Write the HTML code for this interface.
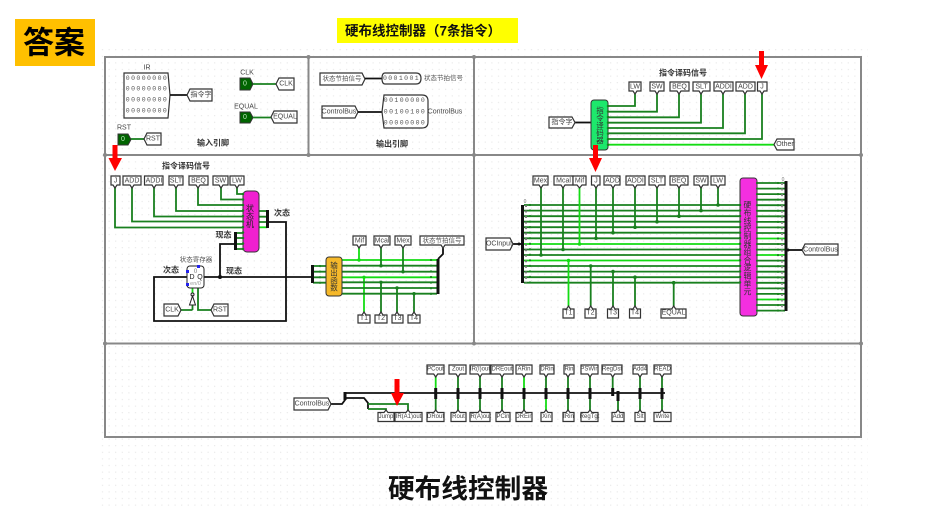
<!DOCTYPE html>
<html lang="zh"><head><meta charset="utf-8"><title>硬布线控制器</title>
<style>
html,body{margin:0;padding:0;background:#fff}
svg{display:block;filter:blur(.3px)}
text{font-family:"Liberation Sans","Noto Sans CJK SC",sans-serif;fill:#444;font-size:7px;text-anchor:middle;dominant-baseline:central}
.t polygon,polygon.t{fill:#fff;stroke:#333;stroke-width:1.200}
.w{stroke:#19801f;stroke-width:1.800;fill:none}
.l{stroke:#14dc14;stroke-width:1.800;fill:none}
.k{stroke:#111;stroke-width:1.800;fill:none}
.b{stroke:#111;stroke-width:3;fill:none}
.d{fill:#19801f}
.dl{fill:#14dc14}
.m{font-size:6.5px;font-family:"Liberation Mono",monospace;fill:#555;letter-spacing:1.4px}
.h{font-weight:bold;font-size:8px;fill:#333}
.s{fill:#555;font-size:6.5px}
.r{fill:#f00}
.x{font-size:6px}
</style></head><body>
<svg width="931" height="521" viewBox="0 0 931 521" xmlns="http://www.w3.org/2000/svg">
<defs><pattern id="g" width="6.6" height="6.6" patternUnits="userSpaceOnUse"><rect x="3" y="3" width="1" height="1" fill="#e0e0e0"/></pattern></defs>
<rect width="931" height="521" fill="#fff"/>
<rect x="100" y="48" width="768" height="462" fill="url(#g)"/>
<rect x="15" y="19" width="80" height="47" fill="#ffc000"/>
<text x="54" y="43" style="font-size:31px;font-weight:bold;fill:#000">答案</text>
<rect x="337" y="18" width="181" height="25" fill="#ffff00"/>
<text x="423" y="31" style="font-size:13.500px;font-weight:bold;fill:#111">硬布线控制器（7条指令）</text>
<text x="468" y="489" style="font-size:26.700px;font-weight:bold;fill:#111">硬布线控制器</text>

<!-- panels -->
<g stroke="#888" stroke-width="2" fill="none"><rect x="105" y="57" width="756" height="380"/><path d="M105 155H861M105 343.500H861M474 57V343.500M308.500 57V155"/></g>
<g fill="#888"><circle cx="105" cy="155" r="2"/><circle cx="308.500" cy="57" r="2"/><circle cx="308.500" cy="155" r="2"/><circle cx="474" cy="57" r="2"/><circle cx="474" cy="155" r="2"/><circle cx="861" cy="155" r="2"/><circle cx="474" cy="343.500" r="2"/><circle cx="105" cy="343.500" r="2"/><circle cx="861" cy="343.500" r="2"/></g>

<!-- input pins -->
<text x="147" y="68">IR</text>
<polygon points="124,73 168,73 170,95 168,118 124,118" fill="#fff" stroke="#333" stroke-width="1.200"/>
<text x="147" y="78.500" class="m">00000000</text><text x="147" y="89" class="m">00000000</text><text x="147" y="100" class="m">00000000</text><text x="147" y="111" class="m">00000000</text>
<path class="k" d="M170 95H187"/>
<polygon class="t" points="187,95 190,89 212,89 212,101 190,101"/><text x="201" y="95">指令字</text>
<text x="247" y="73">CLK</text><polygon points="240,78 250,78 253,84 250,90 240,90" fill="#006400" stroke="#333"/><text x="245" y="84" style="fill:#bfe8bf">0</text>
<path class="w" d="M253 84H276"/><polygon class="t" points="276,84 279,78 294,78 294,90 279,90"/><text x="286" y="84">CLK</text>
<text x="246" y="107">EQUAL</text><polygon points="240,112 250,112 253,117.500 250,123 240,123" fill="#006400" stroke="#333"/><text x="245" y="117.500" style="fill:#bfe8bf">0</text>
<path class="w" d="M253 117.500H271"/><polygon class="t" points="271,117 274,111 297,111 297,123 274,123"/><text x="285" y="117">EQUAL</text>
<text x="124" y="128">RST</text><polygon points="118,134 128,134 131,139.500 128,145 118,145" fill="#006400" stroke="#333"/><text x="123" y="139.500" style="fill:#bfe8bf">0</text>
<path class="w" d="M131 139H144"/><polygon class="t" points="144,139 147,133 161,133 161,145 147,145"/><text x="153" y="139">RST</text>
<text x="213" y="143" class="h">输入引脚</text>

<!-- output pins -->
<polygon class="t" points="320,73 362,73 365,79 362,85 320,85"/><text x="342" y="79" class="s">状态节拍信号</text>
<path class="k" d="M365 78.500H382"/><path d="M385 73H416Q421 73 421 78.500Q421 84 416 84H385Q382 84 382 78.500Q382 73 385 73Z" fill="#fff" stroke="#333" stroke-width="1.200"/>
<text x="401.500" y="78.500" class="m">0001001</text><text x="443.500" y="78.500" class="s">状态节拍信号</text>
<polygon class="t" points="322,106 355,106 358,112 355,118 322,118"/><text x="339" y="112">ControlBus</text>
<path class="k" d="M358 112H382"/><path d="M384 95H422Q428 95 428 101V122Q428 128 422 128H384L382 112Z" fill="#fff" stroke="#333" stroke-width="1.200"/>
<text x="405" y="100.500" class="m">00100000</text><text x="405" y="112" class="m">00100100</text><text x="405" y="123" class="m">00000000</text><text x="445" y="112">ControlBus</text>
<text x="392" y="144" class="h">输出引脚</text>

<!-- instruction decoder -->
<text x="683" y="73" class="h">指令译码信号</text>
<path class="w" d="M608 106H635V94M608 111.700H657V94M608 117.300H679V94M608 122.700H701V94M608 128H723V94M608 133.300H745V94M608 139H762V94"/>
<path class="l" d="M608 144.700H774"/>
<path class="k" d="M575 122.500H591"/>
<g class="t">
<polygon points="629,82 641,82 641,91 637,91 635,94 633,91 629,91"/><polygon points="650,82 664,82 664,91 659,91 657,94 655,91 650,91"/><polygon points="670,82 689,82 689,91 681,91 679,94 677,91 670,91"/><polygon points="693,82 710,82 710,91 703,91 701,94 699,91 693,91"/><polygon points="714,82 733,82 733,91 725,91 723,94 721,91 714,91"/><polygon points="736,82 755,82 755,91 747,91 745,94 743,91 736,91"/><polygon points="757.500,82 767,82 767,91 764,91 762,94 760,91 757.500,91"/>
<polygon points="549,117 572,117 575,122.500 572,128 549,128"/><polygon points="774,144.500 777,139 794,139 794,150 777,150"/>
</g>
<text x="635" y="87">LW</text><text x="657" y="87">SW</text><text x="679.500" y="87">BEQ</text><text x="701.500" y="87">SLT</text><text x="723.500" y="87">ADDI</text><text x="745.500" y="87">ADD</text><text x="762" y="87">J</text><text x="562" y="122.500">指令字</text><text x="785" y="144.500">Other</text>
<rect x="591" y="100" width="17" height="50" rx="3" fill="#1de86c" stroke="#333"/>
<text x="600" y="125" writing-mode="tb" style="fill:#333;font-size:7.500px">指令译码器</text>
<line x1="608" y1="106" x2="608" y2="145" stroke="#19801f" stroke-width="2.500" stroke-linecap="round" stroke-dasharray="0 5.530"/>

<!-- FSM -->
<text x="186" y="166" class="h">指令译码信号</text>
<path class="w" d="M237 187V194H243M221 187V199.500H243M198 187V205H243M176 187V211H243M154 187V216.500H243M132 187V221.500H243M115 187V227.500H243"/>
<path class="w" d="M236 233H243M236 238H243M236 244H243M236 249H243M259 211H267M259 216.700H267M259 222H267"/><path class="l" d="M259 227.300H267"/>
<path class="b" d="M235.500 232V250M267.500 210V228"/>
<path class="k" d="M235 244H220V277M268 222H286V321H154V277H187M204 277H311"/><circle cx="220" cy="277" r="2" fill="#111"/>
<g class="t">
<polygon points="111,176 120,176 120,185 117,185 115,188 113,185 111,185"/><polygon points="123,176 141,176 141,185 134,185 132,188 130,185 123,185"/><polygon points="144.500,176 163,176 163,185 156,185 154,188 152,185 144.500,185"/><polygon points="169,176 183,176 183,185 178,185 176,188 174,185 169,185"/><polygon points="189,176 208,176 208,185 200,185 198,188 196,185 189,185"/><polygon points="213,176 228,176 228,185 223,185 221,188 219,185 213,185"/><polygon points="230,176 244,176 244,185 239,185 237,188 235,185 230,185"/>
</g>
<text x="115.500" y="181">J</text><text x="132" y="181">ADD</text><text x="154" y="181">ADDI</text><text x="176" y="181">SLT</text><text x="198.500" y="181">BEQ</text><text x="220.500" y="181">SW</text><text x="237" y="181">LW</text>
<rect x="243" y="191" width="16" height="61" rx="4" fill="#f020d0" stroke="#333"/>
<text x="250" y="216" writing-mode="tb" style="fill:#222;font-size:8px">状态机</text>
<line x1="243" y1="194" x2="243" y2="250" stroke="#19801f" stroke-width="2.500" stroke-linecap="round" stroke-dasharray="0 5.500"/>
<text x="223.500" y="235" class="h">现态</text><text x="282" y="213" class="h">次态</text><text x="171" y="270" class="h">次态</text><text x="234" y="271" class="h">现态</text>
<text x="196" y="260" class="s">状态寄存器</text>

<!-- register -->
<path class="l" d="M192.500 288V293"/><path class="w" d="M198 288V310H211M192.500 305V310M181 310H192.500"/>
<rect x="187" y="266" width="17" height="22" rx="3" fill="#fff" stroke="#222"/>
<text x="195.500" y="272" style="font-size:6px;fill:#777">0</text><text x="192" y="277.500" style="fill:#222">D</text><text x="200" y="277.500" style="fill:#222">Q</text><text x="195.500" y="284" style="font-size:5.500px;fill:#999">en/0</text>
<g fill="#2222ee"><rect x="186" y="270" width="3" height="3"/><rect x="197" y="265" width="3" height="3"/><rect x="186" y="283" width="3" height="3"/></g>
<circle cx="192.500" cy="294.500" r="1.500" fill="#fff" stroke="#222"/><polygon points="192.500,296 189.500,305 195.500,305" fill="#fff" stroke="#222"/>
<g class="t"><polygon points="164,304 178,304 181,310 178,316 164,316"/><polygon points="211,310 214,304 228,304 228,316 214,316"/></g>
<text x="172" y="310">CLK</text><text x="220" y="310">RST</text>

<!-- output function -->
<path class="w" d="M313 266H326M313 271.700H326M313 277.300H326M313 282.700H326"/>
<path class="b" d="M312.500 265V283"/>
<path class="l" d="M342 260H437M342 277.300H437M359 248V260M364 277.300V312"/>
<path class="w" d="M342 265.700H437M342 271.700H437M342 282.300H437M342 288H437M342 293.700H437M381 248V265.700M403 248V271.700M381 282.300V312M397 288V312M414 293.700V312"/>
<path class="b" d="M438 259V294"/><path class="k" d="M438 259L443 254V248"/>
<circle cx="359" cy="260" r="1.700" class="dl"/><circle cx="364" cy="277.300" r="1.700" class="dl"/><circle cx="381" cy="265.700" r="1.700" class="d"/><circle cx="403" cy="271.700" r="1.700" class="d"/><circle cx="381" cy="282.300" r="1.700" class="d"/><circle cx="397" cy="288" r="1.700" class="d"/><circle cx="414" cy="293.700" r="1.700" class="d"/>
<line x1="431" y1="260" x2="431" y2="294" stroke="#19801f" stroke-width="2.200" stroke-linecap="round" stroke-dasharray="0 5.650"/>
<line x1="320" y1="266" x2="320" y2="283" stroke="#19801f" stroke-width="2.200" stroke-linecap="round" stroke-dasharray="0 5.600"/>
<rect x="326" y="257" width="16" height="39" rx="3" fill="#f5b82a" stroke="#333"/>
<text x="334" y="276.500" writing-mode="tb" style="fill:#333;font-size:7.500px">输出函数</text>
<g class="t">
<polygon points="353,236 366,236 366,245 361,245 359,248 357,245 353,245"/><polygon points="374,236 390,236 390,245 383,245 381,248 379,245 374,245"/><polygon points="395,236 411,236 411,245 405,245 403,248 401,245 395,245"/><polygon points="420,236 464,236 464,245 445,245 443,248 441,245 420,245"/>
<polygon points="358,315 362,315 364,312 366,315 370,315 370,323 358,323"/><polygon points="375,315 379,315 381,312 383,315 387,315 387,323 375,323"/><polygon points="392,315 395,315 397,312 399,315 403,315 403,323 392,323"/><polygon points="408,315 412,315 414,312 416,315 420,315 420,323 408,323"/>
</g>
<text x="359.500" y="241">Mif</text><text x="382" y="241">Mcal</text><text x="403" y="241">Mex</text><text x="442" y="241" class="s">状态节拍信号</text>
<text x="364" y="318.500">T1</text><text x="381" y="318.500">T2</text><text x="397.500" y="318.500">T3</text><text x="414" y="318.500">T4</text>

<!-- combinational logic -->
<path class="w" d="M524 205H740M524 210.600H740M524 216.200H740M524 221.700H740M524 227.200H740M524 232.700H740M524 238.300H740M524 249.500H740M524 255H740M524 266H740M524 271.600H740M524 277.200H740M524 282.700H740"/>
<path class="l" d="M524 244H740M524 260.500H740M579.500 187V244M568.500 260.500V306"/>
<path class="w" d="M541 187V255M563 187V249.500M596 187V238.300M613 187V232.700M635 187V227.200M657 187V221.700M679 187V216.200M701 187V210.600M718 187V205M590.700 266V306M613 271.600V306M635 277.200V306M673.700 282.700V306"/>
<path class="b" d="M522.500 205V283"/><path class="k" d="M513 244H522"/>
<g class="d"><circle cx="541" cy="255" r="1.800"/><circle cx="563" cy="249.500" r="1.800"/><circle cx="596" cy="238.300" r="1.800"/><circle cx="613" cy="232.700" r="1.800"/><circle cx="635" cy="227.200" r="1.800"/><circle cx="657" cy="221.700" r="1.800"/><circle cx="679" cy="216.200" r="1.800"/><circle cx="701" cy="210.600" r="1.800"/><circle cx="718" cy="205" r="1.800"/><circle cx="590.700" cy="266" r="1.800"/><circle cx="613" cy="271.600" r="1.800"/><circle cx="635" cy="277.200" r="1.800"/><circle cx="673.700" cy="282.700" r="1.800"/></g>
<circle cx="579.500" cy="244" r="1.800" class="dl"/><circle cx="568.500" cy="260.500" r="1.800" class="dl"/>
<line x1="530" y1="205" x2="530" y2="283" stroke="#19801f" stroke-width="2.200" stroke-linecap="round" stroke-dasharray="0 5.530"/>
<line x1="526" y1="205" x2="526" y2="283" stroke="#777" stroke-width="1.800" stroke-dasharray="2 3.530"/>
<g class="t">
<polygon points="533,176 548,176 548,185 543,185 541,188 539,185 533,185"/><polygon points="554,176 573,176 573,185 565,185 563,188 561,185 554,185"/><polygon points="573,176 586,176 586,185 582,185 579.500,188 577,185 573,185"/><polygon points="591.500,176 600,176 600,185 598,185 596,188 594,185 591.500,185"/><polygon points="604,176 620,176 620,185 615,185 613,188 611,185 604,185"/><polygon points="626,176 645,176 645,185 637,185 635,188 633,185 626,185"/><polygon points="649,176 665,176 665,185 659,185 657,188 655,185 649,185"/><polygon points="670,176 688,176 688,185 681,185 679,188 677,185 670,185"/><polygon points="694,176 708,176 708,185 703,185 701,188 699,185 694,185"/><polygon points="711,176 725,176 725,185 720,185 718,188 716,185 711,185"/>
<polygon points="486,238 510,238 513,244 510,250 486,250"/>
<polygon points="563,309 566.500,309 568.500,306 570.500,309 574,309 574,318 563,318"/><polygon points="585,309 588.700,309 590.700,306 592.700,309 596,309 596,318 585,318"/><polygon points="607.500,309 611,309 613,306 615,309 618.500,309 618.500,318 607.500,318"/><polygon points="629.500,309 633,309 635,306 637,309 640.500,309 640.500,318 629.500,318"/><polygon points="661,309 671.700,309 673.700,306 675.700,309 686,309 686,318 661,318"/>
<polygon points="802,250 805,244 838,244 838,255 805,255"/>
</g>
<text x="540.500" y="181">Mex</text><text x="563.500" y="181">Mcal</text><text x="579.500" y="181">Mif</text><text x="596" y="181">J</text><text x="612.500" y="181">ADD</text><text x="635.500" y="181">ADDI</text><text x="657" y="181">SLT</text><text x="679" y="181">BEQ</text><text x="701" y="181">SW</text><text x="718" y="181">LW</text>
<text x="499" y="244">OCInput</text><text x="568.500" y="313">T1</text><text x="590.500" y="313">T2</text><text x="613" y="313">T3</text><text x="635" y="313">T4</text><text x="673.500" y="313">EQUAL</text><text x="820.500" y="250">ControlBus</text>
<path class="w" d="M757 183H785M757 188.600H785M757 194.100H785M757 199.700H785M757 205.200H785M757 210.800H785M757 216.300H785M757 221.900H785M757 227.400H785M757 233H785M757 244H785M757 249.600H785M757 260.600H785M757 266.200H785M757 271.700H785M757 277.300H785M757 282.800H785M757 288.400H785M757 293.900H785M757 305H785M757 310.600H785"/>
<path class="l" d="M757 238.500H785M757 255H785M757 299.500H785"/>
<path class="b" d="M786 181V311"/><path class="k" d="M787 250H802"/>
<rect x="740" y="178" width="17" height="138" rx="3" fill="#f42fe0" stroke="#333"/>
<text x="747.500" y="248" writing-mode="tb" style="fill:#333;font-size:7.900px">硬布线控制器组合逻辑单元</text>
<line x1="740" y1="205" x2="740" y2="283" stroke="#19801f" stroke-width="2.500" stroke-linecap="round" stroke-dasharray="0 5.530"/>
<line x1="757" y1="183" x2="757" y2="311" stroke="#19801f" stroke-width="2.200" stroke-linecap="round" stroke-dasharray="0 5.550"/>
<line x1="778" y1="183" x2="778" y2="311" stroke="#19801f" stroke-width="2.200" stroke-linecap="round" stroke-dasharray="0 5.550"/>
<line x1="782" y1="183" x2="782" y2="311" stroke="#888" stroke-width="1.800" stroke-dasharray="2 3.550"/>
<text x="783" y="180" style="font-size:5px;fill:#777">0</text><text x="525" y="202" style="font-size:5px;fill:#777">0</text>
<circle cx="788" cy="250" r="1.500" fill="#111"/><circle cx="519" cy="244" r="1.500" fill="#111"/>

<!-- bottom bus -->
<path class="k" d="M331 404H342L345 400V393H665M345 398H364L368 403V409"/>
<path class="b" d="M345 392V400"/>
<path class="w" d="M368 404H408V410M368 409H386V410"/>
<path class="w" d="M458 376V388M480 376V388M502 376V388M568 376V388M590 376V388M612.700 376V388M640 376V388M662 376V388M546 376V388"/>
<path class="l" d="M435.700 376V388M524 376V388M546 399V410"/>
<path class="w" d="M435.700 399V410M458 399V410M480 399V410M502 399V410M524 399V410M568 399V410M590 399V410M618 401V410M640 399V410M662 399V410"/>
<path class="b" d="M435.700 388V399M458 388V399M480 388V399M502 388V399M524 388V399M546 388V399M568 388V399M590 388V399M612.700 388V396M618 391V401M640 388V399M662 388V399"/>
<g class="t">
<polygon points="294,398 328,398 331,404 328,410 294,410"/>
<polygon points="378,412.500 384,412.500 386,410 388,412.500 394,412.500 394,421.500 378,421.500"/><polygon points="395,412.500 406,412.500 408,410 410,412.500 422,412.500 422,421.500 395,421.500"/>
<polygon points="427,365 444,365 444,374 437.700,374 435.700,377 433.700,374 427,374"/><polygon points="449,365 466,365 466,374 460,374 458,377 456,374 449,374"/><polygon points="470,365 490,365 490,374 482,374 480,377 478,374 470,374"/><polygon points="491,365 513,365 513,374 504,374 502,377 500,374 491,374"/><polygon points="516,365 532,365 532,374 526,374 524,377 522,374 516,374"/><polygon points="540,365 554,365 554,374 548,374 546,377 544,374 540,374"/><polygon points="564,365 574,365 574,374 570,374 568,377 566,374 564,374"/><polygon points="581,365 598,365 598,374 592,374 590,377 588,374 581,374"/><polygon points="602,365 622,365 622,374 614.700,374 612.700,377 610.700,374 602,374"/><polygon points="633,365 647,365 647,374 642,374 640,377 638,374 633,374"/><polygon points="654,365 671,365 671,374 664,374 662,377 660,374 654,374"/>
<polygon points="427,412.500 433.700,412.500 435.700,410 437.700,412.500 444,412.500 444,421.500 427,421.500"/><polygon points="451,412.500 456,412.500 458,410 460,412.500 466,412.500 466,421.500 451,421.500"/><polygon points="470,412.500 478,412.500 480,410 482,412.500 490,412.500 490,421.500 470,421.500"/><polygon points="496,412.500 500,412.500 502,410 504,412.500 510,412.500 510,421.500 496,421.500"/><polygon points="516,412.500 522,412.500 524,410 526,412.500 532,412.500 532,421.500 516,421.500"/><polygon points="541,412.500 544,412.500 546,410 548,412.500 552,412.500 552,421.500 541,421.500"/><polygon points="563,412.500 566,412.500 568,410 570,412.500 574,412.500 574,421.500 563,421.500"/><polygon points="581,412.500 588,412.500 590,410 592,412.500 598,412.500 598,421.500 581,421.500"/><polygon points="612,412.500 616,412.500 618,410 620,412.500 624,412.500 624,421.500 612,421.500"/><polygon points="635,412.500 638,412.500 640,410 642,412.500 645,412.500 645,421.500 635,421.500"/><polygon points="654,412.500 660,412.500 662,410 664,412.500 671,412.500 671,421.500 654,421.500"/>
</g>
<text x="312" y="404">ControlBus</text><text x="386" y="417" class="x">Jump</text><text x="408.500" y="417" class="x">IR(A1)out</text>
<text x="435.500" y="369.500" class="x">PCout</text><text x="458" y="369.500" class="x">Zout</text><text x="480" y="369.500" class="x">IR(I)out</text><text x="502" y="369.500" class="x">DREout</text><text x="524" y="369.500" class="x">ARin</text><text x="547" y="369.500" class="x">DRin</text><text x="569" y="369.500" class="x">Rin</text><text x="589.500" y="369.500" class="x">PSWin</text><text x="612" y="369.500" class="x">RegDst</text><text x="640" y="369.500" class="x">Add4</text><text x="662.500" y="369.500" class="x">READ</text>
<text x="435.500" y="417" class="x">DRout</text><text x="458.500" y="417" class="x">Rout</text><text x="480" y="417" class="x">IR(A)out</text><text x="503" y="417" class="x">PCin</text><text x="524" y="417" class="x">DREin</text><text x="546.500" y="417" class="x">Xin</text><text x="568.500" y="417" class="x">IRin</text><text x="589.500" y="417" class="x">RegTgt</text><text x="618" y="417" class="x">Add</text><text x="640" y="417" class="x">Slt</text><text x="662.500" y="417" class="x">Write</text>

<!-- red arrows -->
<polygon class="r" points="759,51 764,51 764,65 768,65 761.500,79 755,65 759,65"/>
<polygon class="r" points="593,145 598,145 598,158 602,158 595.500,172 589,158 593,158"/>
<polygon class="r" points="112.500,145 117.500,145 117.500,158 122,158 115,171 108.500,158 112.500,158"/>
<polygon class="r" points="394.500,379 399.500,379 399.500,393 404,393 397,406 391,393 394.500,393"/>
</svg>
</body></html>
